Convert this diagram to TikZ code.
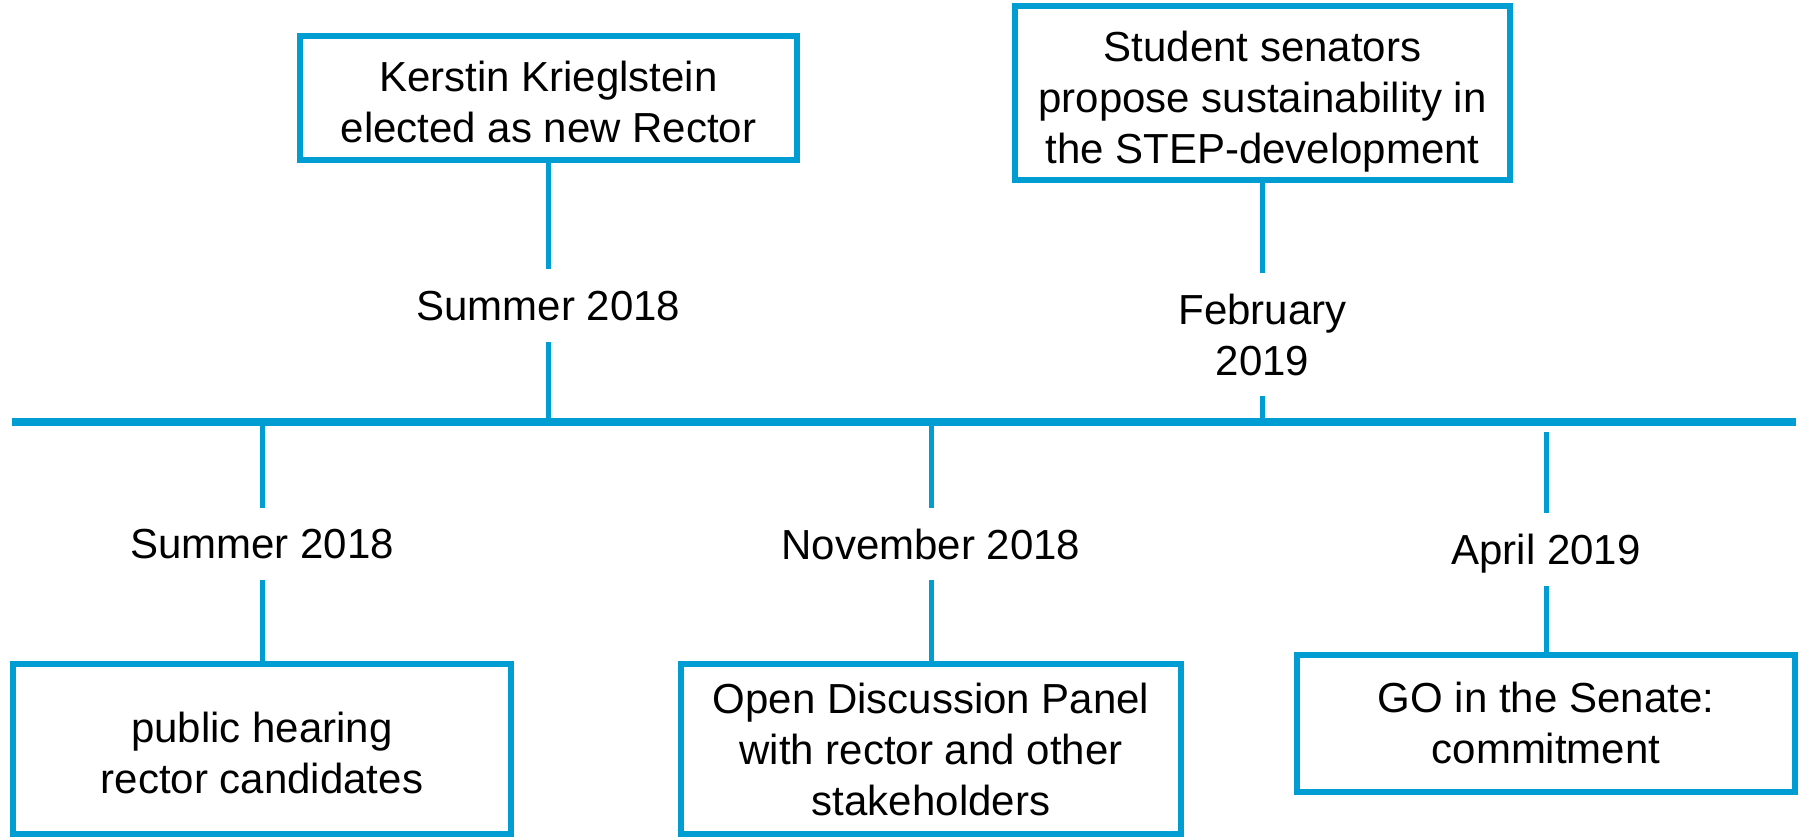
\documentclass[tikz,border=0pt]{standalone}
\usepackage{fontspec}
\setmainfont{Liberation Sans}
\definecolor{tlblue}{RGB}{0,157,210}
\newcommand{\lowerpad}{\rule{0pt}{38pt}}
\begin{document}
\begin{tikzpicture}[x=1pt,y=-1pt,
  evbox/.style={draw=tlblue, line width=6pt, inner sep=0pt, align=center, text depth=0pt, font=\fontsize{42}{51}\selectfont},
  datelbl/.style={inner sep=0pt, align=center, text depth=0pt, font=\fontsize{42}{51}\selectfont},
  link/.style={draw=tlblue, line width=5pt},
  axisline/.style={draw=tlblue, line width=8pt}]
\useasboundingbox (0,0) rectangle (1803,836);
% event boxes
\node[evbox, minimum width=497pt, minimum height=123.5pt] (b1) at (548.5,98) {\lowerpad Kerstin Krieglstein\\elected as new Rector};
\node[evbox, minimum width=495pt, minimum height=173.5pt] (b2) at (1262.5,93) {\lowerpad Student senators\\propose sustainability in\\the STEP-development};
\node[evbox, minimum width=498pt, minimum height=170pt] (b3) at (262,749) {\lowerpad public hearing\\rector candidates};
\node[evbox, minimum width=500pt, minimum height=170pt] (b4) at (931,749) {Open Discussion Panel\\with rector and other\\stakeholders};
\node[evbox, minimum width=497.5pt, minimum height=137pt] (b5) at (1546,723) {GO in the Senate:\\commitment};
% date labels
\node[datelbl, minimum height=73pt] (d1) at (548.5,305.5) {Summer 2018};
\node[datelbl, minimum height=123pt] (d2) at (1262.5,334.5) {February\\2019};
\node[datelbl, minimum height=72pt] (d3) at (262,544) {Summer 2018};
\node[datelbl, minimum height=72pt] (d4) at (931,544) {November 2018};
\node[datelbl, minimum height=73pt] (d5) at (1546,549.5) {April 2019};
% axis
\coordinate (L) at (12,422);
\coordinate (R) at (1796,422);
\coordinate (a5) at (1546,432);
\draw[axisline] (L) -- (R);
% connectors
\draw[link] (b1.south) -- (d1.north);
\draw[link] (d1.south) -- (d1 |- L);
\draw[link] (b2.south) -- (d2.north);
\draw[link] (d2.south) -- (d2 |- L);
\draw[link] (d3 |- L) -- (d3.north);
\draw[link] (d3.south) -- (b3.north);
\draw[link] (d4 |- L) -- (d4.north);
\draw[link] (d4.south) -- (b4.north);
\draw[link] (a5) -- (d5.north);
\draw[link] (d5.south) -- (b5.north);
\end{tikzpicture}
\end{document}
